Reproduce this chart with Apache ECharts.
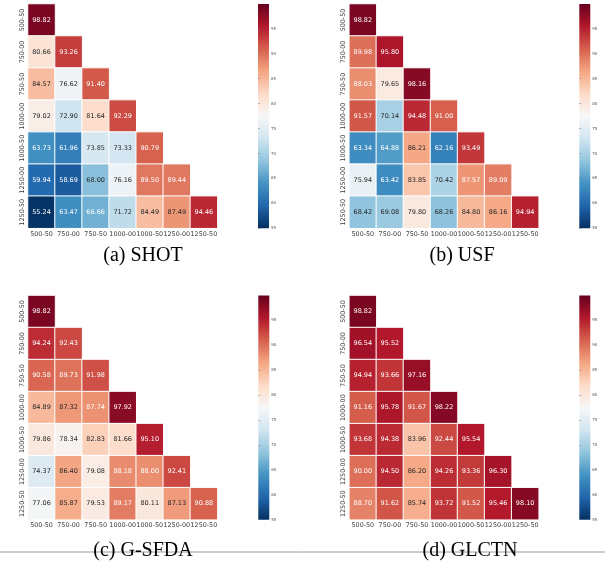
<!DOCTYPE html>
<html>
<head>
<meta charset="utf-8">
<script src="https://cdn.jsdelivr.net/npm/echarts@6/dist/echarts.min.js"></script>
<style>html,body{margin:0;padding:0;background:#fff;}#c{width:605px;height:568px;}</style>
</head>
<body>
<div id="c"></div>
<script>
const categories = ['500-50','750-00','750-50','1000-00','1000-50','1250-00','1250-50'];
const shot = [[98.82],[80.66,93.26],[84.57,76.62,91.40],[79.02,72.90,81.64,92.29],[63.73,61.96,73.85,73.33,90.79],[59.94,58.69,68.00,76.16,89.50,89.44],[55.24,63.47,66.66,71.72,84.49,87.49,94.46]];
const usf = [[98.82],[89.98,95.80],[88.03,79.65,98.16],[91.57,70.14,94.48,91.00],[63.34,64.88,86.21,62.16,93.49],[75.94,63.42,83.85,70.42,87.57,89.09],[68.42,69.08,79.80,68.26,84.80,86.16,94.94]];
const gsfda = [[98.82],[94.24,92.43],[90.58,89.73,91.98],[84.89,87.32,87.74,97.92],[79.86,78.34,82.83,81.66,95.10],[74.37,86.40,79.08,88.18,88.00,92.41],[77.06,85.87,79.53,89.17,80.11,87.13,90.88]];
const glctn = [[98.82],[96.54,95.52],[94.94,93.66,97.16],[91.16,95.78,91.67,98.22],[93.68,94.38,83.96,92.44,95.54],[90.00,94.50,86.20,94.26,93.36,96.30],[88.70,91.62,85.74,93.72,91.52,95.46,98.10]];
const captions = ['(a) SHOT','(b) USF','(c) G-SFDA','(d) GLCTN'];
const colorbarTicks = [55,60,65,70,75,80,85,90,95];
const vmin = 55, vmax = 100;

const palette = ['#053061','#2166ac','#4393c3','#92c5de','#d1e5f0','#f7f7f7','#fddbc7','#f4a582','#d6604d','#b2182b','#67001f'];

function hex2rgb(h){return [parseInt(h.substr(1,2),16),parseInt(h.substr(3,2),16),parseInt(h.substr(5,2),16)];}
function cmap(v){
  let t=(v-vmin)/(vmax-vmin); t=Math.max(0,Math.min(1,t));
  const p=t*(palette.length-1); const i=Math.min(Math.floor(p),palette.length-2); const f=p-i;
  const a=hex2rgb(palette[i]), b=hex2rgb(palette[i+1]);
  return a.map((x,k)=>x+(b[k]-x)*f);
}
function textColor(v){
  const c=cmap(v).map(x=>{x/=255;return x<=0.03928?x/12.92:Math.pow((x+0.055)/1.055,2.4);});
  const lum=0.2126*c[0]+0.7152*c[1]+0.0722*c[2];
  return lum>0.408?'#262626':'#ffffff';
}
const barGradient=()=>new echarts.graphic.LinearGradient(0,1,0,0,palette.map((c,i)=>({offset:i/(palette.length-1),color:c})));

const datasets=[shot,usf,gsfda,glctn];
const panels=[
  {left:28, top:4, cb:258},
  {left:349.3, top:4, cb:579.3},
  {left:28, top:295.5, cb:258.3},
  {left:349.3, top:295.5, cb:579.3}
];
const capPos=[[143,256],[462,256],[143,551],[470,551]];
const W=189.4, H=224.2;

const grid=[],xAxis=[],yAxis=[],series=[],visualMap=[];
panels.forEach((p,k)=>{
  grid.push({left:p.left,top:p.top,width:W,height:H});
  xAxis.push({type:'category',gridIndex:2*k,data:categories,axisLine:{show:false},axisTick:{show:false},splitArea:{show:false},
    axisLabel:{interval:0,fontSize:6.4,color:'#3a3a3a',fontFamily:'DejaVu Sans',margin:3}});
  yAxis.push({type:'category',gridIndex:2*k,data:categories,inverse:true,axisLine:{show:false},axisTick:{show:false},splitArea:{show:false},
    axisLabel:{interval:0,rotate:90,fontSize:6.4,color:'#3a3a3a',fontFamily:'DejaVu Sans',margin:3}});
  grid.push({left:p.cb,top:p.top,width:11,height:H,show:true,borderWidth:0,backgroundColor:barGradient()});
  xAxis.push({type:'value',gridIndex:2*k+1,show:false,min:0,max:1});
  yAxis.push({type:'value',gridIndex:2*k+1,position:'right',min:vmin,max:vmax,
    axisLine:{show:false},splitLine:{show:false},
    axisTick:{show:true,length:2,lineStyle:{color:'#777',width:0.5},customValues:colorbarTicks},
    axisLabel:{fontSize:4,color:'#555',margin:2,fontFamily:'DejaVu Sans',customValues:colorbarTicks}});
  const rows=datasets[k];
  const data=[];
  rows.forEach((row,r)=>row.forEach((v,c)=>{
    data.push({value:[c,r,v],label:{color:textColor(v)}});
  }));
  series.push({type:'heatmap',xAxisIndex:2*k,yAxisIndex:2*k,data:data,
    itemStyle:{borderColor:'#ffffff',borderWidth:1},
    label:{show:true,fontSize:6.5,fontFamily:'DejaVu Sans',formatter:(pp)=>pp.value[2].toFixed(2)},
    emphasis:{disabled:true}});
  series.push({type:'scatter',xAxisIndex:2*k+1,yAxisIndex:2*k+1,data:[],silent:true});
  visualMap.push({type:'continuous',show:false,min:vmin,max:vmax,seriesIndex:2*k,dimension:2,
    inRange:{color:palette}});
});

const graphic=[
  {type:'line',shape:{x1:0,y1:552,x2:605,y2:552},style:{stroke:'#9a9a9a',lineWidth:1},z:0}
];
captions.forEach((t,i)=>{
  graphic.push({type:'text',x:capPos[i][0],y:capPos[i][1],z:10,
    style:{text:t,fontSize:20,fontFamily:'Liberation Serif',fill:'#000',align:'center',verticalAlign:'middle'}});
});

const chart=echarts.init(document.getElementById('c'),null,{renderer:'canvas'});
chart.setOption({animation:false,backgroundColor:'#fff',grid,xAxis,yAxis,series,visualMap,graphic});
</script>
</body>
</html>
